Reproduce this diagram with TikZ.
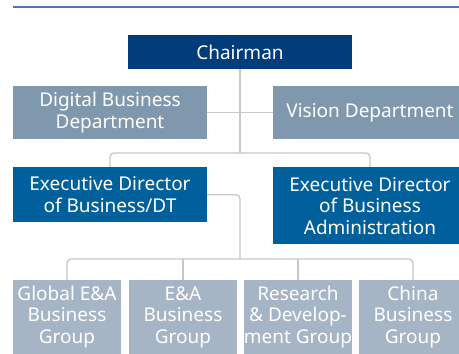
\documentclass[tikz,border=0pt]{standalone}
\usepackage{fontspec}
\setmainfont{Noto Sans}
\usepackage{tikz}
\definecolor{chairblue}{RGB}{0,61,122}
\definecolor{execblue}{RGB}{0,96,155}
\definecolor{deptgrey}{RGB}{128,152,174}
\definecolor{groupgrey}{RGB}{166,181,198}
\definecolor{rulecol}{RGB}{80,120,175}
\definecolor{conncol}{RGB}{200,200,200}
\tikzset{
  box/.style={rectangle,inner sep=0pt,align=center,text=white,font=\fontsize{19}{21.5}\selectfont},
  conn/.style={conncol,line width=1.4pt,rounded corners=4pt}
}
\begin{document}
\begin{tikzpicture}[x=1pt,y=1pt]
    \useasboundingbox (0,0) rectangle (459,354);
    \draw [rulecol,line width=2pt] (13,346.5)--(459,346.5);
    \node [box,fill=chairblue,minimum width=224pt,minimum height=34pt] (chair) at (240,302) {Chairman};
    \node [box,fill=deptgrey,minimum width=194pt,minimum height=53pt] (digital) at (110,241.5) {Digital Business\\Department};
    \node [box,fill=deptgrey,minimum width=194pt,minimum height=53pt] (vision) at (370,241.5) {Vision Department};
    \node [box,fill=execblue,minimum width=194pt,minimum height=55.5pt] (execdt) at (110,159.25) {Executive Director\\of Business/DT};
    \node [box,fill=execblue,minimum width=194pt,minimum height=77.5pt] (execadm) at (370,148.25) {Executive Director\\of Business\\Administration};
    \node [box,fill=groupgrey,minimum width=108pt,minimum height=74pt] (globalea) at (67,37) {Global E\&A\\Business\\Group};
    \node [box,fill=groupgrey,minimum width=108pt,minimum height=74pt] (ea) at (183,37) {E\&A\\Business\\Group};
    \node [box,fill=groupgrey,minimum width=108pt,minimum height=74pt] (rnd) at (298,37) {Research\\\& Develop-\\ment Group};
    \node [box,fill=groupgrey,minimum width=108pt,minimum height=74pt] (china) at (413,37) {China\\Business\\Group};
    \coordinate (exectop) at (240,201);
    \coordinate (groupbus) at (240,95);
    \draw [conn] (chair.south)--(exectop);
    \draw [conn] (digital.east)--(vision.west);
    \draw [conn] (execdt.north)|-(exectop)-|(execadm.north);
    \draw [conn] (execdt.east)-|(groupbus);
    \draw [conn] (globalea.north)|-(groupbus)-|(china.north);
    \draw [conn] (ea.north)--(ea.north|-groupbus);
    \draw [conn] (rnd.north)--(rnd.north|-groupbus);
\end{tikzpicture}
\end{document}
